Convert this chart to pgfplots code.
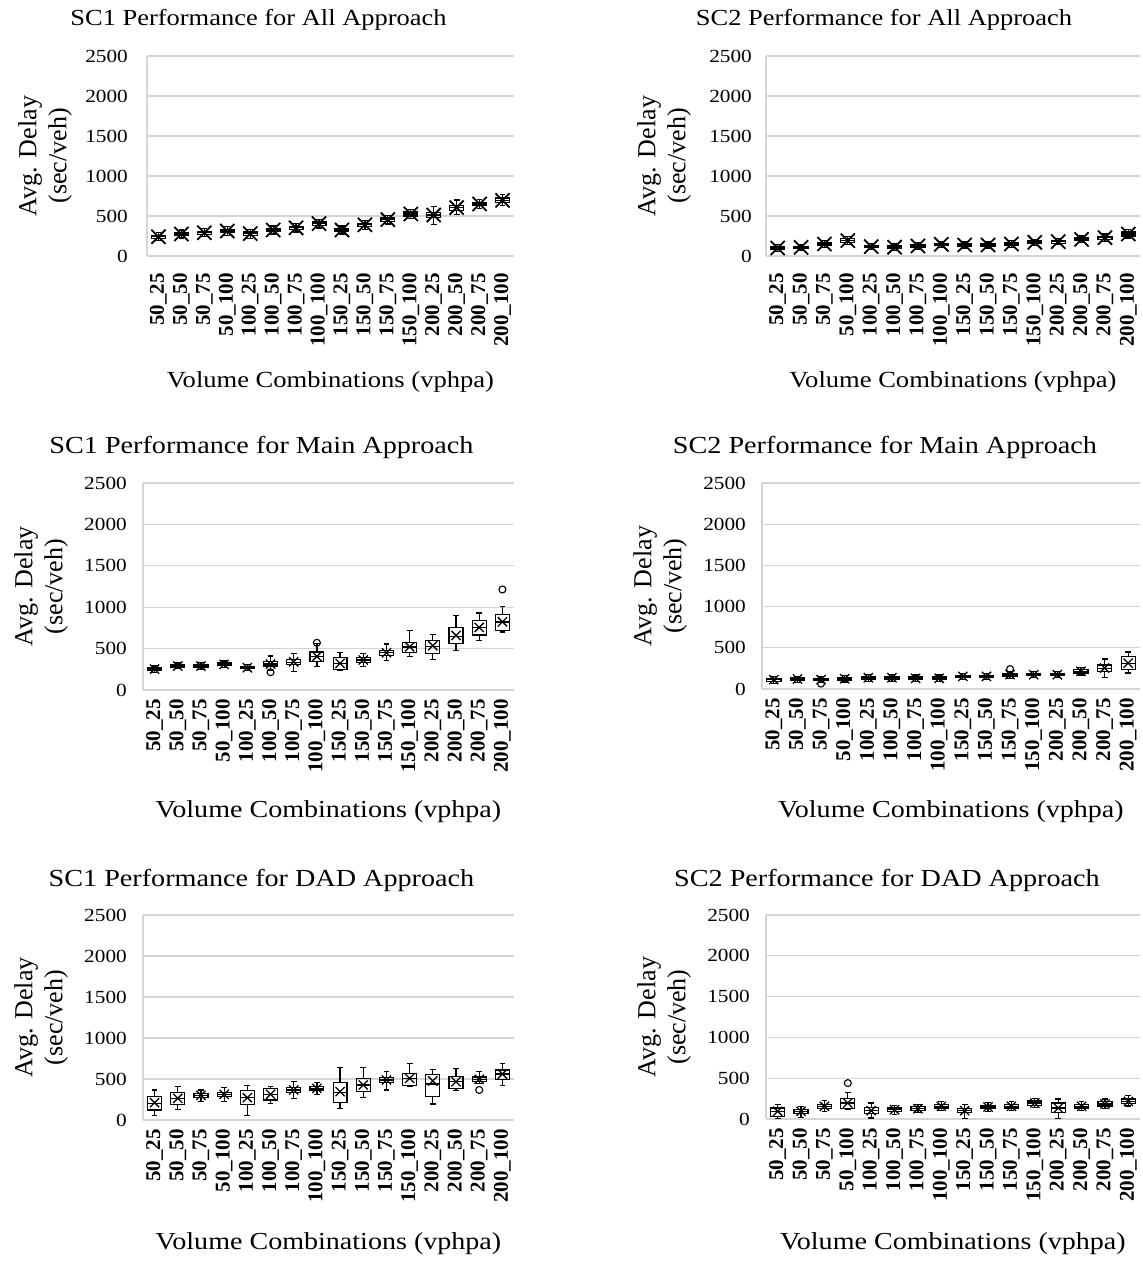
\documentclass[border=0pt]{standalone}
\usepackage{fontspec}
\setmainfont{Liberation Serif}[FakeStretch=1.15]
\newfontfamily\rotfont{Liberation Serif}
\usepackage{pgfplots}
\usepgfplotslibrary{statistics}
\pgfplotsset{compat=1.18}

% box: position, lower whisker, lower quartile, median, upper quartile, upper whisker
\newcommand{\bx}[6]{\addplot[black, line width=1.2pt, boxplot prepared={draw position=#1, lower whisker=#2, lower quartile=#3, median=#4, upper quartile=#5, upper whisker=#6}] coordinates {};}

\pgfplotsset{
 panel/.style={
  scale only axis, clip=false,
  xmin=0.5, xmax=16.5, ymin=0, ymax=2500,
  ytick={0,500,1000,1500,2000,2500},
  xtick={1,...,16},
  xticklabels={50\_25,50\_50,50\_75,50\_100,100\_25,100\_50,100\_75,100\_100,150\_25,150\_50,150\_75,150\_100,200\_25,200\_50,200\_75,200\_100},
  xticklabel style={rotate=90, anchor=east, inner sep=0pt, font=\rotfont\bfseries\fontsize{21}{21}\selectfont},
  yticklabel style={inner sep=0pt, font=\fontsize{18.5}{18.5}\selectfont},
  /pgf/number format/assume math mode=true,
  /pgf/number format/1000 sep={},
  scaled y ticks=false,
  xticklabel shift=9pt, yticklabel shift=16pt,
  major tick length=0pt,
  ymajorgrids, grid style={draw=black!17, line width=1.1pt},
  axis x line*=bottom, axis y line*=left,
  axis line style={draw=black!17, line width=1.1pt, -},
  boxplot/draw direction=y,
  boxplot/box extend=0.6,
  boxplot/whisker extend=0.25,
 },
 meanbig/.style={only marks, black, mark=x, mark size=10pt, line width=1.8pt},
 meansmall/.style={only marks, black, mark=x, mark size=6.5pt, line width=1.3pt},
 outl/.style={only marks, black, mark=o, mark size=3.5pt, line width=1.1pt},
}

\newcommand{\ttlA}[1]{\fontsize{23}{23}\selectfont #1}
\newcommand{\ttlB}[1]{\fontsize{24.5}{24.5}\selectfont #1}
\newcommand{\xlA}{\fontsize{23.1}{23.1}\selectfont Volume Combinations (vphpa)}
\newcommand{\xlB}{\fontsize{24.4}{24.4}\selectfont Volume Combinations (vphpa)}

\begin{document}
\begin{tikzpicture}
\useasboundingbox (0,0) rectangle (1143pt,1261pt);

% ---------------- SC1 All ----------------
\begin{axis}[panel, name=tl, at={(147pt,1005pt)}, anchor=south west, width=367pt, height=200pt, xticklabel shift=17pt, yticklabel shift=19pt]
\bx{1}{190}{220}{240}{260}{290}
\bx{2}{225}{255}{275}{295}{325}
\bx{3}{240}{270}{290}{310}{340}
\bx{4}{260}{292}{312}{332}{365}
\bx{5}{220}{255}{280}{300}{335}
\bx{6}{275}{305}{325}{345}{375}
\bx{7}{300}{332}{352}{372}{405}
\bx{8}{350}{385}{405}{425}{460}
\bx{9}{275}{305}{325}{345}{375}
\bx{10}{330}{370}{390}{410}{445}
\bx{11}{400}{435}{455}{475}{505}
\bx{12}{465}{500}{525}{550}{585}
\bx{13}{390}{480}{512}{545}{620}
\bx{14}{520}{570}{605}{635}{700}
\bx{15}{595}{630}{650}{670}{710}
\bx{16}{630}{670}{695}{725}{770}
\addplot[meanbig] coordinates {(1,240) (2,275) (3,290) (4,312) (5,280) (6,325) (7,352) (8,405) (9,325) (10,390) (11,455) (12,525) (13,512) (14,605) (15,650) (16,695)};
\end{axis}

% ---------------- SC2 All ----------------
\begin{axis}[panel, name=tr, at={(766pt,1005pt)}, anchor=south west, width=374pt, height=200pt, xticklabel shift=17pt, yticklabel shift=14pt]
\bx{1}{60}{85}{100}{115}{140}
\bx{2}{70}{93}{108}{123}{145}
\bx{3}{110}{135}{150}{165}{190}
\bx{4}{140}{170}{192}{215}{245}
\bx{5}{80}{102}{117}{132}{155}
\bx{6}{70}{95}{110}{125}{150}
\bx{7}{85}{110}{125}{140}{165}
\bx{8}{105}{130}{146}{160}{185}
\bx{9}{100}{122}{137}{152}{175}
\bx{10}{100}{122}{137}{152}{175}
\bx{11}{110}{135}{150}{165}{190}
\bx{12}{130}{155}{171}{188}{210}
\bx{13}{140}{160}{179}{195}{220}
\bx{14}{165}{190}{208}{225}{250}
\bx{15}{185}{210}{229}{248}{275}
\bx{16}{225}{250}{275}{300}{330}
\addplot[meanbig] coordinates {(1,100) (2,108) (3,150) (4,192) (5,117) (6,110) (7,125) (8,146) (9,137) (10,137) (11,150) (12,171) (13,179) (14,208) (15,229) (16,275)};
\end{axis}

% ---------------- SC1 Main ----------------
\begin{axis}[panel, name=ml, at={(143pt,571pt)}, anchor=south west, width=371pt, height=207pt]
\bx{1}{215}{238}{253}{268}{290}
\bx{2}{255}{275}{289}{305}{325}
\bx{3}{250}{272}{289}{305}{330}
\bx{4}{270}{295}{309}{325}{350}
\bx{5}{235}{255}{269}{285}{305}
\bx{6}{240}{290}{313}{340}{410}
\bx{7}{225}{305}{333}{365}{440}
\bx{8}{280}{345}{400}{460}{560}
\bx{9}{235}{245}{320}{390}{450}
\bx{10}{280}{335}{362}{390}{440}
\bx{11}{355}{420}{450}{480}{555}
\bx{12}{400}{450}{520}{575}{715}
\bx{13}{370}{445}{530}{600}{675}
\bx{14}{475}{565}{650}{750}{895}
\bx{15}{600}{665}{750}{835}{930}
\bx{16}{700}{715}{820}{910}{1005}
\addplot[meansmall] coordinates {(1,253) (2,289) (3,289) (4,309) (5,269) (6,313) (7,340) (8,405) (9,321) (10,362) (11,450) (12,522) (13,535) (14,659) (15,756) (16,824)};
\addplot[outl] coordinates {(6,215) (8,570) (16,1214)};
\end{axis}

% ---------------- SC2 Main ----------------
\begin{axis}[panel, name=mr, at={(762pt,572pt)}, anchor=south west, width=378pt, height=206pt]
\bx{1}{70}{95}{113}{130}{150}
\bx{2}{80}{105}{121}{135}{155}
\bx{3}{80}{100}{113}{128}{150}
\bx{4}{85}{110}{125}{140}{165}
\bx{5}{95}{122}{137}{152}{180}
\bx{6}{95}{122}{137}{152}{180}
\bx{7}{90}{115}{129}{145}{170}
\bx{8}{90}{115}{129}{145}{170}
\bx{9}{115}{140}{153}{165}{190}
\bx{10}{115}{138}{153}{168}{190}
\bx{11}{130}{155}{170}{190}{215}
\bx{12}{140}{160}{173}{188}{210}
\bx{13}{140}{160}{173}{188}{210}
\bx{14}{170}{195}{214}{235}{260}
\bx{15}{135}{215}{250}{290}{365}
\bx{16}{195}{235}{310}{395}{450}
\addplot[meansmall] coordinates {(1,113) (2,121) (3,113) (4,125) (5,137) (6,137) (7,129) (8,129) (9,153) (10,153) (11,175) (12,173) (13,173) (14,214) (15,254) (16,314)};
\addplot[outl] coordinates {(3,65) (11,242)};
\end{axis}

% ---------------- SC1 DAD ----------------
\begin{axis}[panel, name=bl, at={(143pt,141pt)}, anchor=south west, width=371pt, height=205pt]
\bx{1}{50}{122}{205}{285}{365}
\bx{2}{130}{190}{260}{333}{405}
\bx{3}{225}{275}{300}{325}{365}
\bx{4}{230}{285}{313}{340}{400}
\bx{5}{50}{185}{270}{355}{420}
\bx{6}{200}{245}{313}{385}{405}
\bx{7}{265}{335}{366}{395}{465}
\bx{8}{310}{365}{386}{405}{455}
\bx{9}{140}{210}{340}{455}{640}
\bx{10}{270}{345}{427}{510}{640}
\bx{11}{365}{460}{488}{515}{590}
\bx{12}{405}{425}{508}{570}{685}
\bx{13}{195}{285}{440}{550}{620}
\bx{14}{355}{385}{467}{530}{630}
\bx{15}{445}{465}{496}{525}{590}
\bx{16}{425}{490}{561}{610}{685}
\addplot[meansmall] coordinates {(1,211) (2,264) (3,301) (4,313) (5,272) (6,313) (7,366) (8,386) (9,346) (10,427) (11,488) (12,508) (13,476) (14,467) (15,496) (16,561)};
\addplot[outl] coordinates {(15,366)};
\end{axis}

% ---------------- SC2 DAD ----------------
\begin{axis}[panel, name=br, at={(766pt,142pt)}, anchor=south west, width=374pt, height=204pt]
\bx{1}{5}{35}{94}{135}{175}
\bx{2}{15}{70}{94}{118}{155}
\bx{3}{95}{130}{155}{180}{225}
\bx{4}{115}{125}{196}{255}{325}
\bx{5}{12}{65}{102}{140}{195}
\bx{6}{60}{95}{114}{135}{170}
\bx{7}{75}{105}{126}{150}{180}
\bx{8}{100}{135}{155}{175}{210}
\bx{9}{10}{75}{102}{130}{175}
\bx{10}{95}{125}{147}{170}{205}
\bx{11}{105}{135}{155}{175}{215}
\bx{12}{140}{170}{196}{220}{255}
\bx{13}{5}{75}{135}{195}{245}
\bx{14}{105}{135}{155}{180}{215}
\bx{15}{130}{160}{184}{210}{245}
\bx{16}{160}{190}{216}{245}{285}
\addplot[meansmall] coordinates {(1,94) (2,94) (3,155) (4,196) (5,102) (6,114) (7,126) (8,155) (9,102) (10,147) (11,155) (12,196) (13,135) (14,155) (15,184) (16,216)};
\addplot[outl] coordinates {(4,440)};
\end{axis}

% titles
\node at ([xshift=-72pt,yshift=36pt]tl.north) {\ttlA{SC1 Performance for All Approach}};
\node at ([xshift=-69pt,yshift=36pt]tr.north) {\ttlA{SC2 Performance for All Approach}};
\node at ([xshift=-67pt,yshift=36pt]ml.north) {\ttlB{SC1 Performance for Main Approach}};
\node at ([xshift=-66pt,yshift=36pt]mr.north) {\ttlB{SC2 Performance for Main Approach}};
\node at ([xshift=-67pt,yshift=35pt]bl.north) {\ttlB{SC1 Performance for DAD Approach}};
\node at ([xshift=-66pt,yshift=35pt]br.north) {\ttlB{SC2 Performance for DAD Approach}};
% x labels
\node at ([yshift=-126pt]tl.south) {\xlA};
\node at ([yshift=-126pt]tr.south) {\xlA};
\node at ([yshift=-122pt]ml.south) {\xlB};
\node at ([yshift=-123pt]mr.south) {\xlB};
\node at ([yshift=-124pt]bl.south) {\xlB};
\node at ([yshift=-125pt]br.south) {\xlB};
% y labels
\foreach \p in {tl,tr,ml,mr,bl,br}{
  \node[rotate=90, align=center, inner sep=0pt, font=\rotfont\fontsize{26}{30}\selectfont] at ([xshift=-102pt]\p.west) {Avg. Delay\\(sec/veh)};
}
\end{tikzpicture}
\end{document}
